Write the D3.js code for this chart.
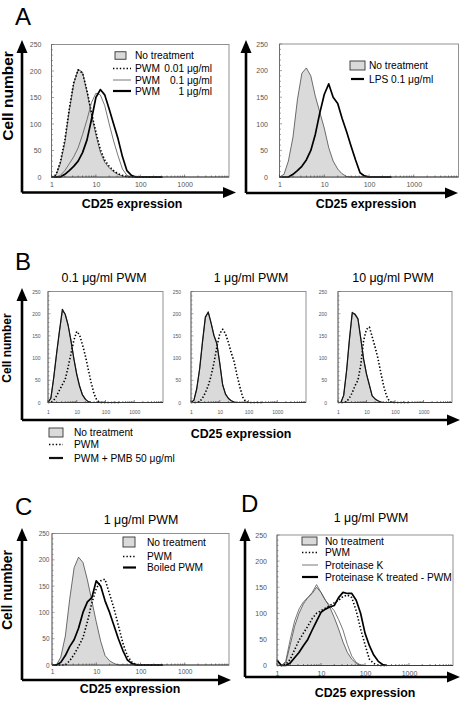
<!DOCTYPE html>
<html><head><meta charset="utf-8">
<script src="https://cdn.jsdelivr.net/npm/d3@7/dist/d3.min.js"></script>
<style>body{margin:0;background:#fff}svg{display:block}</style>
</head><body>
<svg id="fig" width="462" height="702"></svg>
<script>
// ---------- DATA ----------
// CD25 expression bins (log-spaced)
const cd25Bins = [1,1.26,1.58,2,2.51,3.16,3.98,5.01,6.31,7.94,10,12.6,15.8,20,25.1,31.6,39.8,50.1,63.1,79.4,100,126,158,200,251,316];
const yTicks = [0,50,100,150,200,250];
const xTicks = [1,10,100,1000];
const xTickLabels = ["1","10","100","1000"];

// Panel A (left)
const aNone    = [0,3,25,65,125,175,203,198,160,118,80,47,28,17,10,5,2,0,0,0,0,0,0,0,0,0];
const aPwm001  = [0,4,28,70,128,178,202,196,163,122,85,52,32,20,12,6,3,1,0,0,0,0,0,0,0,0];
const aPwm01   = [0,0,3,12,25,38,55,80,108,140,158,155,135,100,68,40,15,3,0,0,0,0,0,0,0,0];
const aPwm1    = [0,0,0,5,12,20,30,46,70,108,150,165,155,128,100,72,38,12,3,0,0,0,0,0,0,0];
// Panel A (right)
const arNone   = [0,5,30,75,145,195,205,190,152,122,92,55,30,15,6,1,0,0,0,0,0,0,0,0,0,0];
const arLps    = [0,0,0,5,12,20,32,50,80,120,155,175,150,138,110,85,58,32,8,2,0,0,0,0,0,0];
// Panel B
const b1None   = [0,10,55,110,160,205,200,175,140,100,65,38,18,8,2,0,0,0,0,0,0,0,0,0,0,0];
const b1Pwm    = [0,0,5,15,28,40,52,80,110,140,160,152,130,105,75,45,20,5,0,0,0,0,0,0,0,0];
const b1Pmb    = [0,10,56,112,162,210,198,174,138,98,63,36,17,7,2,0,0,0,0,0,0,0,0,0,0,0];
const b2None   = [0,5,30,75,135,190,205,180,152,135,90,40,20,10,4,1,0,0,0,0,0,0,0,0,0,0];
const b2Pwm    = [0,0,0,2,10,22,38,60,90,125,155,165,155,135,112,92,62,35,12,2,0,0,0,0,0,0];
const b2Pmb    = [0,5,31,76,137,193,203,178,150,132,88,40,19,9,4,1,0,0,0,0,0,0,0,0,0,0];
const b3None   = [0,0,15,70,140,200,200,190,145,98,65,40,15,8,4,1,0,0,0,0,0,0,0,0,0,0];
const b3Pwm    = [0,0,0,2,10,22,38,50,85,140,165,170,148,125,100,68,38,15,3,0,0,0,0,0,0,0];
const b3Pmb    = [0,0,16,72,142,203,198,188,143,97,64,39,15,8,4,1,0,0,0,0,0,0,0,0,0,0];
// Panel C
const cNone    = [0,0,15,55,125,185,205,195,162,122,82,45,18,8,3,0,0,0,0,0,0,0,0,0,0,0];
const cPwm     = [0,0,0,0,8,20,35,52,82,118,145,160,163,135,108,75,42,18,6,1,0,0,0,0,0,0];
const cBoiled  = [0,0,5,18,35,48,70,100,120,128,160,150,122,100,75,50,28,10,3,0,0,0,0,0,0,0];
// Panel D
const dNone    = [12,0,5,40,75,100,118,130,138,150,140,125,112,92,70,45,25,12,4,0,0,0,0,0,0,0];
const dPwm     = [0,0,2,12,30,48,62,75,90,100,105,110,115,120,125,132,135,130,105,70,40,12,4,0,0,0];
const dPk      = [8,0,8,50,85,108,122,130,140,155,140,125,115,105,88,68,40,18,6,1,0,0,0,0,0,0];
const dPkPwm   = [10,0,0,5,15,25,38,50,68,85,102,108,112,115,130,140,138,138,125,100,62,38,20,8,2,0];

// Legend texts
const legendA1 = [["No treatment",""],["PWM","0.01 μg/ml"],["PWM","0.1 μg/ml"],["PWM","1 μg/ml"]];
const legendA2 = ["No treatment","LPS 0.1 μg/ml"];
const legendB  = ["No treatment","PWM","PWM + PMB 50 μg/ml"];
const legendC  = ["No treatment","PWM","Boiled PWM"];
const legendD  = ["No treatment","PWM","Proteinase K","Proteinase K treated - PWM"];
const titlesB  = ["0.1 μg/ml PWM","1 μg/ml PWM","10 μg/ml PWM"];
const titleC   = "1 μg/ml PWM";
const titleD   = "1 μg/ml PWM";

// ---------- DRAWING ----------
const svg = d3.select('#fig');
const FONT = "'Liberation Sans', Arial, Helvetica, sans-serif";
const FILL = '#dadada';
const STY = {
  fill:  {stroke:'#333', w:0.7, dash:null},
  dot:   {stroke:'#000', w:1.6, dash:'1.4,2'},
  thin:  {stroke:'#555', w:0.8, dash:null},
  thick: {stroke:'#000', w:1.7, dash:null},
  solid: {stroke:'#111', w:1.2, dash:null}
};

function drawPlot(p) {
  const g = svg.append('g');
  const x = d3.scaleLog().domain([1, 10000]).range([p.l, p.r]);
  const y = d3.scaleLinear().domain([0, 250]).range([p.b, p.t]);
  g.append('rect').attr('x', p.l).attr('y', p.t).attr('width', p.r - p.l).attr('height', p.b - p.t)
    .attr('fill', 'none').attr('stroke', '#777').attr('stroke-width', 0.8);
  const line = d3.line().x(d => x(d[0])).y(d => y(d[1]));
  const area = d3.area().x(d => x(d[0])).y0(y(0)).y1(d => y(d[1]));
  p.series.forEach(s => {
    const pts = cd25Bins.map((v, i) => [v, s.values[i]]);
    if (s.style === 'fill') {
      g.append('path').datum(pts).attr('d', area).attr('fill', FILL);
    }
  });
  p.series.forEach(s => {
    const pts = cd25Bins.map((v, i) => [v, s.values[i]]);
    const st = STY[s.style];
    g.append('path').datum(pts).attr('d', line).attr('fill', 'none')
      .attr('stroke', st.stroke).attr('stroke-width', st.w)
      .attr('stroke-dasharray', st.dash).attr('stroke-linejoin', 'round');
  });
  g.append('line').attr('x1', p.l).attr('x2', p.r).attr('y1', p.b).attr('y2', p.b).attr('stroke', '#333').attr('stroke-width', 0.9);
  g.append('line').attr('x1', p.l).attr('x2', p.l).attr('y1', p.t).attr('y2', p.b).attr('stroke', '#666').attr('stroke-width', 0.8);
  const minors = [];
  for (let k = 0; k < 4; k++) for (let m = 1; m < 10; m++) minors.push(m * Math.pow(10, k));
  g.selectAll(null).data(minors).enter().append('line')
    .attr('x1', d => x(d)).attr('x2', d => x(d)).attr('y1', p.b).attr('y2', d => p.b - (String(d)[0] === '1' ? 2.5 : 1.5))
    .attr('stroke', '#333').attr('stroke-width', 0.6);
  g.selectAll(null).data(d3.range(0, 251, 10)).enter().append('line')
    .attr('x1', p.l).attr('x2', d => p.l + (d % 50 === 0 ? 2.5 : 1.5)).attr('y1', d => y(d)).attr('y2', d => y(d))
    .attr('stroke', '#666').attr('stroke-width', 0.6);
  const ya = g.append('g').attr('transform', `translate(${p.l},0)`)
    .call(d3.axisLeft(y).tickValues(yTicks).tickSize(0).tickPadding(p.yPad));
  const xa = g.append('g').attr('transform', `translate(0,${p.b})`)
    .call(d3.axisBottom(x).tickValues(xTicks).tickFormat((d, i) => xTickLabels[i]).tickSize(0).tickPadding(p.xPad));
  [ya, xa].forEach(a => {
    a.select('.domain').remove();
    a.selectAll('text').attr('font-family', FONT).attr('font-size', p.tfs).attr('fill', '#555');
  });
}

function arrow(x1, y1, x2, y2) {
  const ang = Math.atan2(y2 - y1, x2 - x1);
  const L = 13, W = 5.5;
  const bx = x2 - L * Math.cos(ang), by = y2 - L * Math.sin(ang);
  svg.append('line').attr('x1', x1).attr('y1', y1).attr('x2', bx).attr('y2', by)
    .attr('stroke', '#000').attr('stroke-width', 2.6);
  const px = -Math.sin(ang) * W, py = Math.cos(ang) * W;
  svg.append('path').attr('d', `M${x2},${y2}L${bx + px},${by + py}L${bx - px},${by - py}Z`).attr('fill', '#000');
}

function text(x, y, s, opt) {
  const t = svg.append('text').attr('x', x).attr('y', y).text(s)
    .attr('font-family', FONT).attr('font-size', opt.fs).attr('fill', '#000')
    .attr('font-weight', opt.bold ? 'bold' : 'normal').attr('text-anchor', opt.anchor || 'start');
  if (opt.rot) t.attr('transform', `rotate(-90,${x},${y})`);
  return t;
}

function legend(L, items) {
  items.forEach((it, i) => {
    const cy = L.rows[i];
    if (it.style === 'fill') {
      svg.append('rect').attr('x', L.sx).attr('y', cy - L.sh / 2).attr('width', L.sw).attr('height', L.sh)
        .attr('fill', FILL).attr('stroke', '#333').attr('stroke-width', 0.9);
    } else {
      const st = STY[it.style];
      svg.append('line').attr('x1', L.lx1).attr('x2', L.lx2).attr('y1', cy).attr('y2', cy)
        .attr('stroke', st.stroke).attr('stroke-width', (it.style === 'thick' || it.style === 'solid') ? 2.2 : st.w).attr('stroke-dasharray', st.dash);
    }
    text(L.tx, cy + 3.6, it.label, {fs: 10.2});
    if (it.value) text(L.vx, cy + 3.6, it.value, {fs: 10.2, anchor: 'end'});
  });
}

// ---- Panel A left ----
drawPlot({l:51.5, r:229, t:44.5, b:177, yPad:10, xPad:5.5, tfs:7, series:[
  {values:aNone, style:'fill'}, {values:aPwm001, style:'dot'}, {values:aPwm01, style:'thin'}, {values:aPwm1, style:'thick'}]});
arrow(22, 192.5, 22, 40); arrow(22, 192.5, 236, 192.5);
legend({sx:115, sw:11, sh:7.5, lx1:113, lx2:131, tx:135, vx:212, rows:[55.5,68.5,80,91]}, [
  {style:'fill', label:legendA1[0][0]}, {style:'dot', label:legendA1[1][0], value:legendA1[1][1]},
  {style:'thin', label:legendA1[2][0], value:legendA1[2][1]}, {style:'thick', label:legendA1[3][0], value:legendA1[3][1]}]);
text(15, 25, 'A', {fs:24});
text(12.5, 96, 'Cell number', {fs:15.5, bold:true, rot:true, anchor:'middle'});
text(132, 208, 'CD25 expression', {fs:12.4, bold:true, anchor:'middle'});

// ---- Panel A right ----
drawPlot({l:279.5, r:458.5, t:44, b:177, yPad:11.5, xPad:5.5, tfs:7, series:[
  {values:arNone, style:'fill'}, {values:arLps, style:'thick'}]});
arrow(246, 193, 246, 40); arrow(246, 193, 458, 193);
legend({sx:350, sw:15, sh:9, lx1:351, lx2:364, tx:369, rows:[65.5,79]}, [
  {style:'fill', label:legendA2[0]}, {style:'thick', label:legendA2[1]}]);
text(366, 208, 'CD25 expression', {fs:12.4, bold:true, anchor:'middle'});

// ---- Panel B ----
const bPlots = [
  {l:48, r:163, none:b1None, pwm:b1Pwm, pmb:b1Pmb, pad:7.5, tx:104},
  {l:191, r:306, none:b2None, pwm:b2Pwm, pmb:b2Pmb, pad:10, tx:251},
  {l:338, r:452, none:b3None, pwm:b3Pwm, pmb:b3Pmb, pad:11, tx:393}
];
bPlots.forEach((bp, i) => {
  drawPlot({l:bp.l, r:bp.r, t:291.5, b:402.5, yPad:bp.pad, xPad:7.5, tfs:5, series:[
    {values:bp.none, style:'fill'}, {values:bp.pwm, style:'dot'}, {values:bp.pmb, style:'solid'}]});
  text(bp.tx, 282, titlesB[i], {fs:12.4, anchor:'middle'});
});
arrow(22, 420, 22, 288); arrow(22, 420, 460, 420);
legend({sx:49, sw:14, sh:9, lx1:49, lx2:63, tx:74, rows:[432.5,444.5,458]}, [
  {style:'fill', label:legendB[0]}, {style:'dot', label:legendB[1]}, {style:'solid', label:legendB[2]}]);
text(15, 270, 'B', {fs:24});
text(10.5, 348, 'Cell number', {fs:12, bold:true, rot:true, anchor:'middle'});
text(241, 438, 'CD25 expression', {fs:12.4, bold:true, anchor:'middle'});

// ---- Panel C ----
drawPlot({l:52, r:229, t:533.5, b:665, yPad:2.5, xPad:4, tfs:6.5, series:[
  {values:cNone, style:'fill'}, {values:cPwm, style:'dot'}, {values:cBoiled, style:'thick'}]});
arrow(22, 680, 22, 528); arrow(22, 680, 231, 680);
legend({sx:123, sw:12, sh:10, lx1:123, lx2:136, tx:147, rows:[542,556.5,567.5]}, [
  {style:'fill', label:legendC[0]}, {style:'dot', label:legendC[1]}, {style:'thick', label:legendC[2]}]);
text(15, 515, 'C', {fs:24});
text(141, 524, titleC, {fs:12.4, anchor:'middle'});
text(11.7, 590, 'Cell number', {fs:13.8, bold:true, rot:true, anchor:'middle'});
text(130, 693, 'CD25 expression', {fs:12.4, bold:true, anchor:'middle'});

// ---- Panel D ----
drawPlot({l:277, r:453, t:535, b:665.5, yPad:10, xPad:6, tfs:7, series:[
  {values:dNone, style:'fill'}, {values:dPwm, style:'dot'}, {values:dPk, style:'thin'}, {values:dPkPwm, style:'thick'}]});
arrow(245, 677, 245, 528); arrow(245, 677, 460, 677);
legend({sx:302, sw:15, sh:8, lx1:302, lx2:318, tx:325, rows:[541,552.5,565,577]}, [
  {style:'fill', label:legendD[0]}, {style:'dot', label:legendD[1]}, {style:'thin', label:legendD[2]}, {style:'thick', label:legendD[3]}]);
text(241, 512, 'D', {fs:24});
text(371, 522, titleD, {fs:12.4, anchor:'middle'});
text(365, 697, 'CD25 expression', {fs:12.4, bold:true, anchor:'middle'});
</script>
</body></html>
